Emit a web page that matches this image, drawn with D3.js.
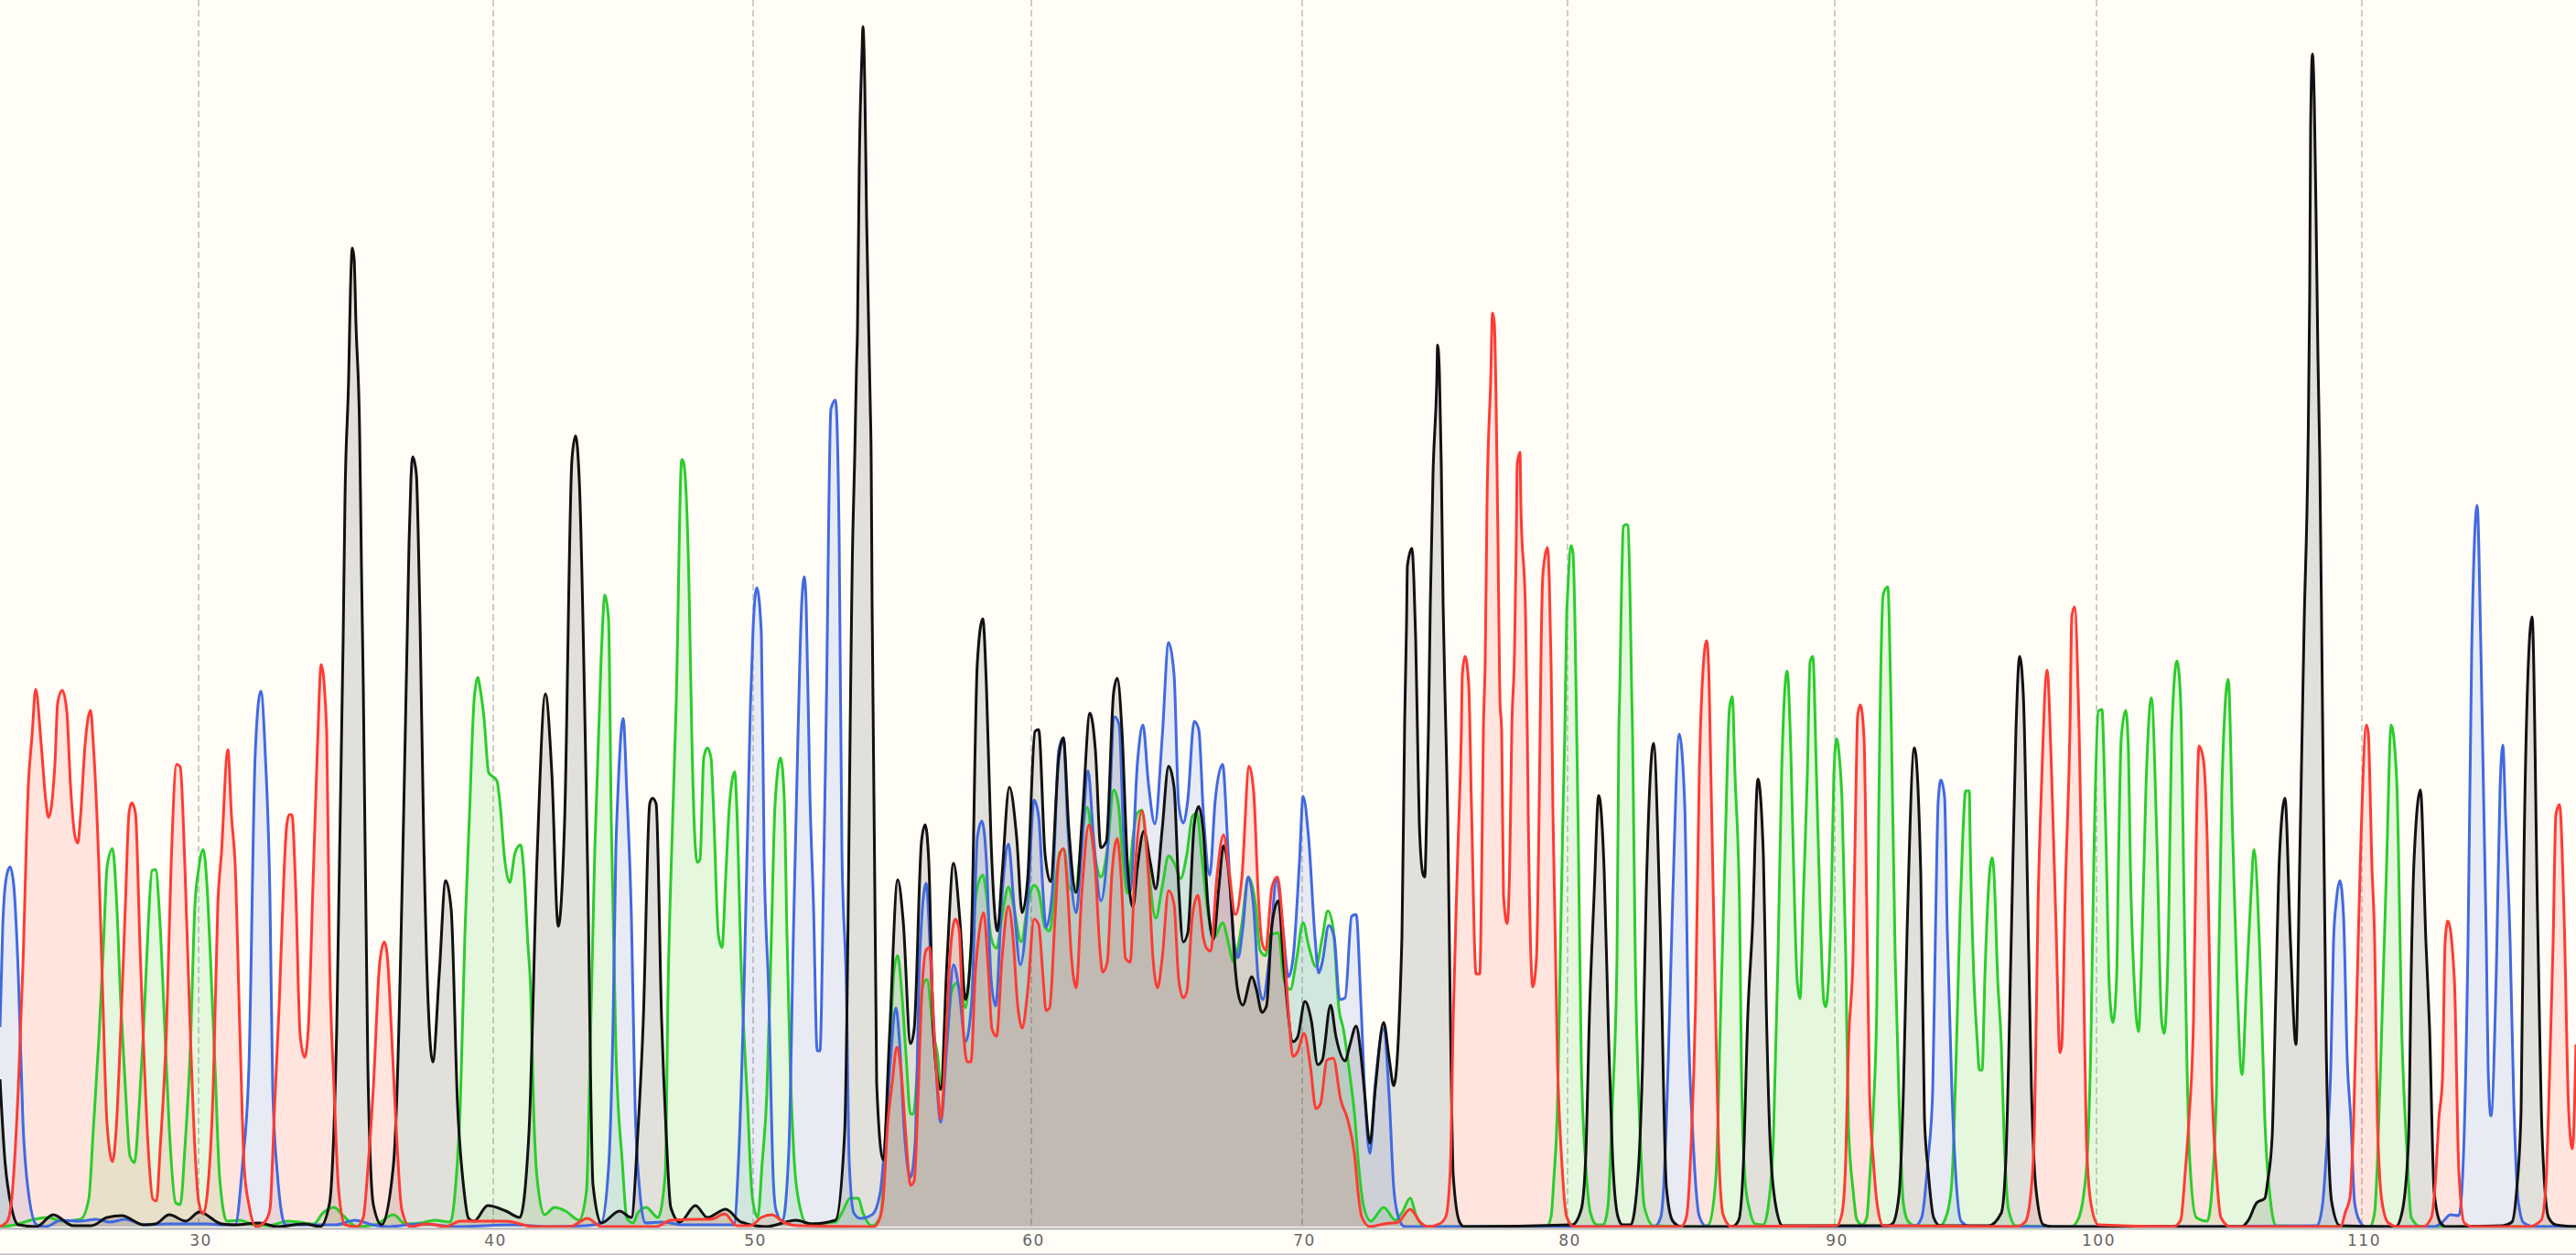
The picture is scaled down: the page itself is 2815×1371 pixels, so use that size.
<!DOCTYPE html>
<html><head><meta charset="utf-8">
<script src="https://cdn.jsdelivr.net/npm/d3@7"></script>
<style>html,body{margin:0;padding:0;background:#fffdf6;overflow:hidden}svg{display:block}</style>
</head><body><div id="chart"></div>
<script>
// Trace vertices: [scan, signal]
const traceBlue=[[0,218],[3,328],[7,382],[11,393],[15,373],[20,276],[25,116],[30,46],[40,2],[50,0],[67,7],[87,6],[105,8],[120,5],[137,8],[157,2],[183,3],[227,3],[243,2],[257,2],[265,68],[272,174],[279,519],[285,585],[290,514],[295,359],[298,152],[303,59],[312,2],[333,2],[367,2],[388,7],[407,2],[423,0],[460,3],[500,0],[560,2],[600,0],[640,1],[657,4],[665,64],[670,226],[673,412],[675,468],[681,555],[685,474],[690,338],[694,133],[699,40],[705,4],[723,5],[747,2],[777,2],[802,2],[807,71],[813,257],[820,567],[823,654],[827,698],[832,648],[835,406],[840,257],[845,52],[848,18],[855,6],[862,83],[867,319],[872,536],[876,679],[879,710],[881,679],[885,474],[889,350],[893,192],[896,192],[900,381],[903,567],[908,893],[913,903],[917,754],[920,412],[925,257],[928,71],[933,15],[940,9],[953,13],[962,38],[968,107],[973,180],[979,239],[983,202],[988,107],[995,54],[1000,91],[1005,293],[1012,375],[1017,293],[1022,189],[1028,114],[1035,202],[1042,286],[1048,259],[1055,202],[1062,248],[1068,425],[1073,443],[1078,398],[1083,271],[1088,241],[1095,362],[1102,418],[1108,352],[1115,286],[1123,352],[1130,466],[1135,448],[1140,362],[1143,327],[1150,366],[1157,521],[1162,534],[1167,434],[1176,343],[1182,412],[1189,498],[1195,425],[1203,356],[1210,407],[1218,557],[1223,548],[1228,425],[1235,366],[1243,507],[1249,548],[1255,484],[1262,440],[1270,534],[1277,638],[1283,603],[1288,462],[1293,441],[1298,466],[1305,552],[1310,543],[1315,452],[1322,384],[1328,466],[1336,505],[1342,412],[1348,316],[1353,294],[1358,325],[1364,382],[1370,348],[1375,270],[1380,248],[1387,293],[1395,379],[1402,325],[1408,273],[1413,293],[1420,398],[1424,470],[1430,425],[1437,316],[1441,277],[1445,289],[1452,329],[1458,316],[1464,248],[1470,250],[1477,339],[1482,341],[1487,248],[1492,134],[1497,80],[1503,157],[1512,216],[1518,143],[1523,43],[1528,11],[1535,0],[1600,0],[1700,0],[1808,0],[1815,11],[1818,43],[1823,180],[1828,362],[1835,538],[1841,462],[1845,225],[1850,98],[1857,11],[1865,0],[1980,0],[2093,1],[2100,10],[2107,74],[2112,148],[2115,321],[2118,464],[2121,488],[2125,469],[2128,321],[2133,148],[2137,60],[2143,6],[2153,0],[2243,0],[2400,0],[2532,1],[2538,24],[2543,94],[2547,172],[2550,311],[2553,355],[2557,378],[2561,339],[2565,183],[2569,116],[2573,27],[2578,7],[2585,0],[2660,0],[2668,4],[2678,13],[2687,12],[2692,77],[2697,311],[2701,628],[2707,788],[2711,634],[2717,311],[2719,172],[2722,121],[2728,283],[2732,478],[2735,526],[2738,450],[2743,311],[2747,138],[2752,27],[2758,4],[2770,0],[2815,0]];

const traceGreen=[[0,0],[17,2],[33,7],[53,10],[67,6],[88,8],[97,30],[102,107],[108,205],[113,306],[117,393],[123,413],[127,364],[132,244],[137,152],[142,77],[147,70],[152,130],[157,218],[162,329],[166,389],[170,390],[175,329],[180,218],[185,107],[192,26],[197,24],[202,85],[208,196],[213,351],[217,390],[222,412],[227,359],[230,293],[235,174],[240,54],[248,6],[262,7],[277,2],[293,1],[315,6],[343,3],[353,15],[365,21],[375,12],[390,0],[410,2],[430,13],[443,3],[460,4],[475,7],[492,5],[498,46],[503,133],[508,319],[513,449],[518,574],[522,600],[525,586],[529,555],[534,496],[538,492],[543,487],[547,456],[551,406],[557,376],[563,409],[569,417],[572,394],[577,307],[580,257],[583,133],[587,52],[595,13],[606,21],[618,17],[633,7],[641,40],[645,195],[650,412],[657,623],[661,690],[665,664],[668,443],[673,195],[680,71],[685,9],[692,4],[697,15],[706,21],[719,10],[727,58],[730,257],[735,443],[739,574],[745,838],[747,835],[753,698],[756,536],[759,431],[762,398],[765,401],[769,512],[773,523],[777,512],[780,449],[785,319],[789,305],[793,381],[797,459],[803,497],[805,462],[810,282],[817,133],[822,33],[828,10],[833,71],[838,145],[843,319],[847,462],[853,512],[857,468],[860,319],[863,195],[868,71],[873,27],[882,3],[913,5],[920,15],[929,31],[938,31],[943,15],[953,1],[962,11],[967,70],[973,202],[977,280],[981,296],[985,261],[990,189],[995,123],[998,123],[1003,180],[1008,261],[1013,270],[1020,211],[1025,184],[1028,150],[1035,207],[1040,257],[1045,266],[1050,257],[1055,239],[1062,316],[1068,371],[1074,384],[1078,362],[1083,316],[1089,304],[1095,339],[1102,371],[1108,348],[1116,311],[1123,352],[1130,373],[1135,366],[1142,327],[1147,323],[1153,371],[1158,409],[1163,412],[1168,371],[1175,366],[1182,425],[1188,458],[1195,412],[1203,382],[1210,412],[1217,477],[1222,462],[1227,402],[1232,364],[1238,425],[1243,452],[1248,455],[1253,412],[1263,337],[1270,371],[1277,405],[1285,393],[1290,380],[1297,407],[1303,448],[1308,452],[1313,407],[1320,343],[1327,316],[1336,332],[1343,307],[1348,289],[1357,330],[1364,382],[1372,352],[1377,302],[1383,296],[1388,318],[1397,321],[1403,270],[1410,259],[1417,293],[1424,332],[1430,307],[1438,284],[1445,316],[1451,345],[1457,325],[1463,239],[1468,216],[1475,166],[1480,125],[1485,63],[1490,23],[1498,6],[1512,21],[1525,7],[1532,15],[1541,31],[1548,11],[1558,0],[1690,0],[1695,11],[1698,52],[1702,134],[1705,293],[1708,452],[1710,540],[1712,667],[1713,690],[1717,744],[1719,735],[1721,665],[1723,540],[1725,407],[1728,180],[1733,66],[1738,15],[1745,2],[1752,2],[1757,21],[1762,134],[1767,293],[1769,540],[1770,582],[1772,698],[1774,765],[1777,767],[1779,766],[1781,703],[1783,587],[1784,540],[1787,293],[1792,111],[1797,21],[1807,1],[1860,0],[1867,2],[1875,52],[1880,225],[1885,405],[1890,567],[1893,579],[1896,493],[1901,346],[1903,173],[1907,50],[1912,18],[1918,3],[1927,2],[1932,20],[1938,99],[1943,296],[1947,498],[1953,607],[1957,518],[1960,395],[1964,267],[1967,249],[1971,370],[1975,493],[1978,617],[1981,623],[1985,493],[1989,346],[1993,247],[1995,240],[2001,346],[2004,493],[2007,533],[2010,513],[2013,464],[2017,296],[2020,109],[2025,40],[2029,8],[2035,2],[2040,10],[2043,50],[2047,124],[2051,247],[2053,444],[2058,691],[2063,699],[2066,592],[2071,296],[2075,148],[2080,25],[2085,6],[2093,1],[2120,1],[2128,15],[2133,50],[2138,198],[2142,346],[2145,429],[2148,476],[2152,476],[2153,420],[2157,272],[2161,198],[2163,171],[2166,171],[2169,272],[2173,370],[2177,403],[2179,385],[2183,272],[2187,198],[2190,99],[2195,18],[2203,1],[2263,0],[2270,6],[2277,35],[2282,99],[2285,208],[2288,395],[2293,563],[2297,565],[2299,518],[2302,395],[2305,262],[2309,223],[2313,272],[2315,395],[2318,533],[2323,564],[2326,518],[2328,395],[2332,272],[2337,213],[2340,283],[2345,478],[2351,578],[2357,422],[2362,227],[2365,211],[2370,339],[2373,534],[2379,618],[2383,573],[2387,339],[2390,172],[2393,71],[2400,10],[2412,6],[2417,38],[2422,144],[2428,478],[2435,598],[2440,422],[2445,255],[2450,166],[2455,266],[2460,367],[2463,412],[2470,283],[2475,116],[2482,21],[2487,1],[2590,0],[2595,16],[2598,71],[2603,227],[2608,394],[2613,548],[2619,489],[2625,199],[2630,88],[2635,10],[2645,0],[2815,0]];

const traceBlack=[[0,161],[5,77],[13,19],[20,2],[40,0],[58,13],[80,1],[100,1],[117,10],[133,12],[157,2],[170,3],[185,13],[203,6],[218,16],[242,3],[257,2],[283,4],[303,0],[333,3],[350,0],[360,25],[368,218],[375,642],[377,795],[381,927],[383,1025],[385,1069],[387,1057],[389,986],[393,868],[395,720],[397,590],[402,174],[408,24],[417,2],[430,68],[445,645],[447,747],[449,815],[451,841],[455,822],[457,758],[459,662],[463,426],[473,180],[480,276],[487,378],[493,347],[500,133],[507,40],[512,9],[518,6],[533,23],[553,17],[568,10],[578,102],[587,406],[596,582],[603,496],[610,328],[617,443],[625,838],[629,864],[633,816],[642,400],[648,46],[657,4],[677,17],[690,10],[697,102],[703,226],[710,462],[713,468],[717,462],[723,226],[728,102],[733,21],[743,5],[760,23],[773,10],[793,19],[810,5],[837,0],[870,7],[887,3],[913,7],[923,102],[932,760],[934,840],[936,940],[937,977],[939,1160],[942,1283],[943,1311],[945,1248],[947,1102],[951,898],[952,840],[953,680],[958,157],[965,73],[972,207],[981,379],[987,334],[995,200],[999,216],[1007,421],[1011,439],[1015,398],[1020,211],[1028,150],[1035,293],[1042,397],[1049,334],[1055,248],[1061,302],[1068,616],[1074,664],[1078,589],[1083,421],[1090,323],[1095,384],[1103,480],[1111,425],[1117,343],[1123,380],[1131,541],[1135,543],[1142,407],[1148,377],[1157,512],[1162,534],[1168,434],[1176,365],[1183,452],[1191,561],[1197,521],[1203,414],[1209,421],[1217,584],[1221,599],[1226,543],[1232,398],[1238,349],[1243,393],[1250,432],[1257,398],[1263,369],[1270,434],[1277,503],[1283,480],[1288,371],[1293,311],[1298,321],[1305,439],[1310,459],[1315,430],[1320,352],[1326,314],[1332,371],[1337,416],[1345,361],[1350,280],[1353,255],[1358,242],[1368,273],[1373,259],[1379,234],[1384,241],[1390,330],[1397,356],[1403,284],[1413,202],[1418,207],[1426,246],[1433,225],[1440,177],[1445,182],[1454,242],[1460,207],[1470,181],[1475,198],[1482,219],[1487,189],[1491,148],[1497,91],[1503,152],[1512,223],[1518,184],[1523,154],[1532,316],[1535,552],[1537,657],[1538,722],[1543,741],[1545,708],[1547,643],[1549,540],[1551,440],[1555,385],[1557,382],[1559,450],[1561,543],[1563,680],[1566,823],[1570,920],[1571,963],[1573,932],[1575,832],[1577,680],[1580,543],[1582,450],[1585,225],[1588,57],[1595,5],[1600,0],[1718,2],[1728,19],[1733,80],[1737,234],[1742,362],[1747,471],[1753,389],[1758,202],[1762,80],[1768,11],[1773,2],[1782,2],[1790,57],[1795,180],[1799,366],[1807,528],[1814,339],[1821,43],[1828,6],[1837,0],[1893,0],[1900,7],[1905,65],[1910,232],[1915,326],[1921,489],[1927,405],[1930,247],[1935,79],[1942,15],[1948,1],[2063,1],[2068,3],[2075,33],[2080,148],[2084,321],[2092,523],[2099,385],[2103,119],[2107,62],[2113,10],[2120,1],[2173,1],[2187,15],[2192,74],[2198,321],[2203,543],[2207,623],[2211,582],[2217,296],[2220,148],[2225,40],[2233,2],[2243,0],[2450,0],[2457,7],[2466,26],[2475,31],[2478,49],[2483,99],[2487,255],[2491,406],[2497,468],[2503,311],[2509,199],[2513,394],[2518,662],[2522,840],[2524,1020],[2525,1200],[2527,1281],[2529,1230],[2531,1100],[2533,950],[2535,840],[2538,562],[2542,199],[2548,27],[2557,1],[2618,0],[2625,16],[2632,94],[2635,283],[2638,400],[2645,477],[2651,311],[2655,216],[2660,38],[2667,4],[2673,0],[2735,1],[2745,5],[2750,38],[2755,127],[2758,394],[2763,617],[2767,666],[2773,339],[2778,99],[2785,10],[2793,2],[2815,0]];

const traceRed=[[0,0],[8,6],[13,32],[20,152],[25,284],[31,483],[35,536],[39,587],[45,527],[50,466],[53,447],[60,505],[63,572],[68,586],[73,563],[77,483],[82,426],[85,419],[88,448],[93,527],[99,564],[102,527],[108,395],[112,262],[117,112],[123,71],[127,107],[132,218],[137,351],[141,452],[144,463],[148,452],[153,306],[157,196],[162,85],[167,30],[171,28],[175,85],[182,218],[187,395],[193,505],[197,502],[202,395],[207,240],[213,85],[217,28],[222,14],[227,41],[233,152],[238,351],[242,408],[249,521],[253,448],[257,395],[262,218],[267,63],[272,24],[280,0],[290,6],[295,19],[300,130],[305,240],[310,377],[313,435],[316,450],[319,450],[323,373],[328,209],[333,185],[337,218],[342,373],[347,527],[351,614],[357,541],[360,306],[365,152],[370,41],[377,2],[390,0],[397,10],[402,63],[408,152],[415,289],[420,311],[423,298],[428,209],[433,107],[439,19],[448,0],[467,3],[487,0],[503,6],[553,6],[583,0],[623,0],[642,9],[657,0],[717,0],[733,7],[763,8],[777,8],[792,14],[805,1],[820,1],[832,10],[843,13],[858,4],[873,1],[955,0],[962,11],[965,29],[970,111],[975,157],[980,196],[985,166],[990,98],[995,45],[999,50],[1003,134],[1007,248],[1012,302],[1016,305],[1020,225],[1025,148],[1028,118],[1033,189],[1038,293],[1044,336],[1048,325],[1053,211],[1057,180],[1061,180],[1066,280],[1070,321],[1075,343],[1080,280],[1084,216],[1089,208],[1095,293],[1102,350],[1107,316],[1112,243],[1117,217],[1123,257],[1130,336],[1135,330],[1140,270],[1143,236],[1147,239],[1153,339],[1157,402],[1162,413],[1167,362],[1170,307],[1176,261],[1182,362],[1190,439],[1197,389],[1202,302],[1205,278],[1210,289],[1215,384],[1221,424],[1225,384],[1230,293],[1235,289],[1240,384],[1248,454],[1255,384],[1260,293],[1265,261],[1270,293],[1277,367],[1283,352],[1288,271],[1293,250],[1297,257],[1303,339],[1309,362],[1315,316],[1318,305],[1323,301],[1330,384],[1337,428],[1343,389],[1350,341],[1357,380],[1365,503],[1370,475],[1375,362],[1379,311],[1383,302],[1390,371],[1396,382],[1402,325],[1408,234],[1413,186],[1418,191],[1425,211],[1432,175],[1438,129],[1443,134],[1450,182],[1457,184],[1465,139],[1473,116],[1480,80],[1485,29],[1488,11],[1497,0],[1513,3],[1528,5],[1541,19],[1552,5],[1560,0],[1573,3],[1580,11],[1585,66],[1588,225],[1593,407],[1597,544],[1598,603],[1601,623],[1605,592],[1608,459],[1613,276],[1617,276],[1620,459],[1621,540],[1623,617],[1625,790],[1629,925],[1631,998],[1633,987],[1635,895],[1637,747],[1639,578],[1641,540],[1643,362],[1647,331],[1650,407],[1652,540],[1655,627],[1657,753],[1658,833],[1661,846],[1662,787],[1667,672],[1669,540],[1670,453],[1675,262],[1679,293],[1683,540],[1684,623],[1686,712],[1691,742],[1693,707],[1695,613],[1696,540],[1697,453],[1702,180],[1707,66],[1712,11],[1720,0],[1837,0],[1843,11],[1848,89],[1853,248],[1857,498],[1861,607],[1865,640],[1867,616],[1870,475],[1875,225],[1878,89],[1883,13],[1892,0],[2007,1],[2013,15],[2017,74],[2020,198],[2025,296],[2028,469],[2030,558],[2033,570],[2037,533],[2040,346],[2043,148],[2047,74],[2052,20],[2058,1],[2203,0],[2213,5],[2218,25],[2223,99],[2227,346],[2231,484],[2237,608],[2242,493],[2247,321],[2251,190],[2253,198],[2257,370],[2262,543],[2264,666],[2267,677],[2272,543],[2277,272],[2280,94],[2285,25],[2293,2],[2375,0],[2383,7],[2388,60],[2392,116],[2397,227],[2400,422],[2403,525],[2408,509],[2412,422],[2417,160],[2422,60],[2427,10],[2437,0],[2558,0],[2563,16],[2568,32],[2572,116],[2577,311],[2580,422],[2586,548],[2588,539],[2592,394],[2595,311],[2598,116],[2603,27],[2610,4],[2620,0],[2648,0],[2657,10],[2662,60],[2665,116],[2669,160],[2672,311],[2675,334],[2682,272],[2687,60],[2693,4],[2702,0],[2763,0],[2777,7],[2782,44],[2787,199],[2790,311],[2793,450],[2797,461],[2802,339],[2807,127],[2811,85],[2815,199]];

const baseLabels=[30,40,50,60,70,80,90,100,110];
const baseScans=[217,539,823,1127,1423,1713,2005,2291,2581];
const seriesNames=["A","C","G","T"];
const seriesColors=["#2ccc2c","#4169e1","#111111","#ff3b33"];

const W=2815,H=1371;
const svg=d3.select("#chart").append("svg").attr("width",W).attr("height",H);
svg.append("rect").attr("width",W).attr("height",H).attr("fill","#fffdf6");

const x=d3.scaleLinear().domain([0,2815]).range([0,W]);
const y=d3.scaleLinear().domain([0,1340]).range([1340,0]);

const traces=[traceGreen,traceBlue,traceBlack,traceRed];

// gridlines
svg.append("g").selectAll("line").data(baseScans).join("line")
  .attr("x1",d=>x(d)).attr("x2",d=>x(d)).attr("y1",0).attr("y2",y(0))
  .attr("stroke","#cccccc").attr("stroke-width",2).attr("stroke-dasharray","7,4");

const area=d3.area().x(d=>x(d[0])).y0(y(0)).y1(d=>y(d[1])).curve(d3.curveMonotoneX);
const line=d3.line().x(d=>x(d[0])).y(d=>y(d[1])).curve(d3.curveMonotoneX);

svg.append("g").selectAll("path").data(traces).join("path")
  .attr("d",area).attr("fill",(d,i)=>seriesColors[i]).attr("fill-opacity",0.12).attr("stroke","none");
svg.append("g").selectAll("path").data(traces).join("path")
  .attr("d",line).attr("fill","none").attr("stroke",(d,i)=>seriesColors[i])
  .attr("stroke-width",3).attr("stroke-linejoin","round");

// axis rules
svg.append("rect").attr("x",0).attr("y",1341).attr("width",W).attr("height",2.5).attr("fill","#bdbdbd");
svg.append("rect").attr("x",0).attr("y",1369.5).attr("width",W).attr("height",1.5).attr("fill","#bdbdbd");

// tick labels
svg.append("g").selectAll("text").data(baseLabels).join("text")
  .attr("x",(d,i)=>x(baseScans[i])+2.5).attr("y",1361)
  .attr("text-anchor","middle")
  .attr("font-family","'DejaVu Sans',sans-serif").attr("font-size",17)
  .attr("letter-spacing",1.5).attr("fill","#666").text(d=>d);
</script></body></html>
